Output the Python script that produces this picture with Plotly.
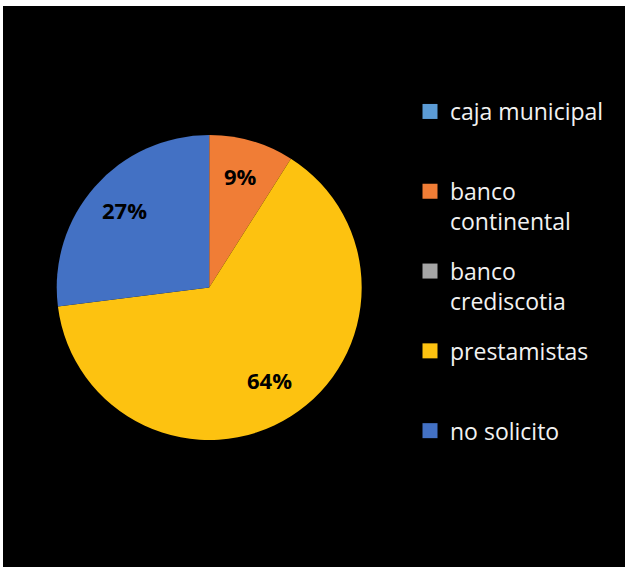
import math
import plotly.graph_objects as go

# Survey answers: where the credit came from
categories = ["caja municipal", "banco continental", "banco crediscotia", "prestamistas", "no solicito"]
legend_text = ["caja municipal", "banco<br>continental", "banco<br>crediscotia", "prestamistas", "no solicito"]
percent = [0, 9, 0, 64, 27]
colors = ["#5B9BD5", "#F07D36", "#A5A5A5", "#FDC210", "#4371C4"]

W, H = 626, 567
dom_x = [0.0906, 0.5778]
dom_y = [0.2240, 0.7619]

fig = go.Figure()

fig.add_trace(go.Pie(
    labels=categories,
    values=percent,
    marker=dict(colors=colors, line=dict(width=0)),
    sort=False,
    direction="clockwise",
    rotation=0,
    textinfo="none",
    hoverinfo="label+percent",
    showlegend=False,
    domain=dict(x=dom_x, y=dom_y),
))

# one legend entry per category, each padded to two lines so rows are evenly spaced
for name, txt, col in zip(categories, legend_text, colors):
    label = txt if "<br>" in txt else txt + "<br>\u00a0"
    fig.add_trace(go.Scatter(
        x=[None], y=[None], mode="markers",
        marker=dict(symbol="square", size=15, color=col),
        name=label, legendgroup=name, showlegend=True, hoverinfo="skip",
    ))

# percentage labels placed along each slice's mid angle
cx = (dom_x[0] + dom_x[1]) / 2 * W
cy = (1 - (dom_y[0] + dom_y[1]) / 2) * H
radius = min((dom_x[1] - dom_x[0]) * W, (dom_y[1] - dom_y[0]) * H) / 2
total = sum(percent)
start = 0.0
annotations = []
for v in percent:
    if v > 0:
        mid = (start + v / 2) / total * 2 * math.pi
        px = cx + 0.74 * radius * math.sin(mid)
        py = cy - 0.74 * radius * math.cos(mid) - 3
        annotations.append(dict(
            x=px / W, y=1 - py / H, xref="paper", yref="paper",
            text=f"{v}%", showarrow=False, xanchor="center", yanchor="middle",
            font=dict(family="Open Sans", size=22, color="black", weight="bold"),
        ))
    start += v

fig.update_layout(
    width=W, height=H,
    margin=dict(l=0, r=0, t=0, b=0),
    paper_bgcolor="white",
    plot_bgcolor="rgba(0,0,0,0)",
    xaxis=dict(visible=False),
    yaxis=dict(visible=False),
    shapes=[dict(type="rect", xref="paper", yref="paper",
                 x0=3 / W, x1=625 / W, y0=0, y1=1 - 6 / H,
                 fillcolor="black", line=dict(width=0), layer="below")],
    annotations=annotations,
    legend=dict(
        x=410 / W, xanchor="left",
        y=1 - 90 / H, yanchor="top",
        bgcolor="rgba(0,0,0,0)",
        font=dict(family="Open Sans", size=23, color="#F2F2F2"),
        traceorder="grouped",
        tracegroupgap=17,
        valign="top",
        itemclick=False, itemdoubleclick=False,
    ),
)

fig.write_html("out.html")
